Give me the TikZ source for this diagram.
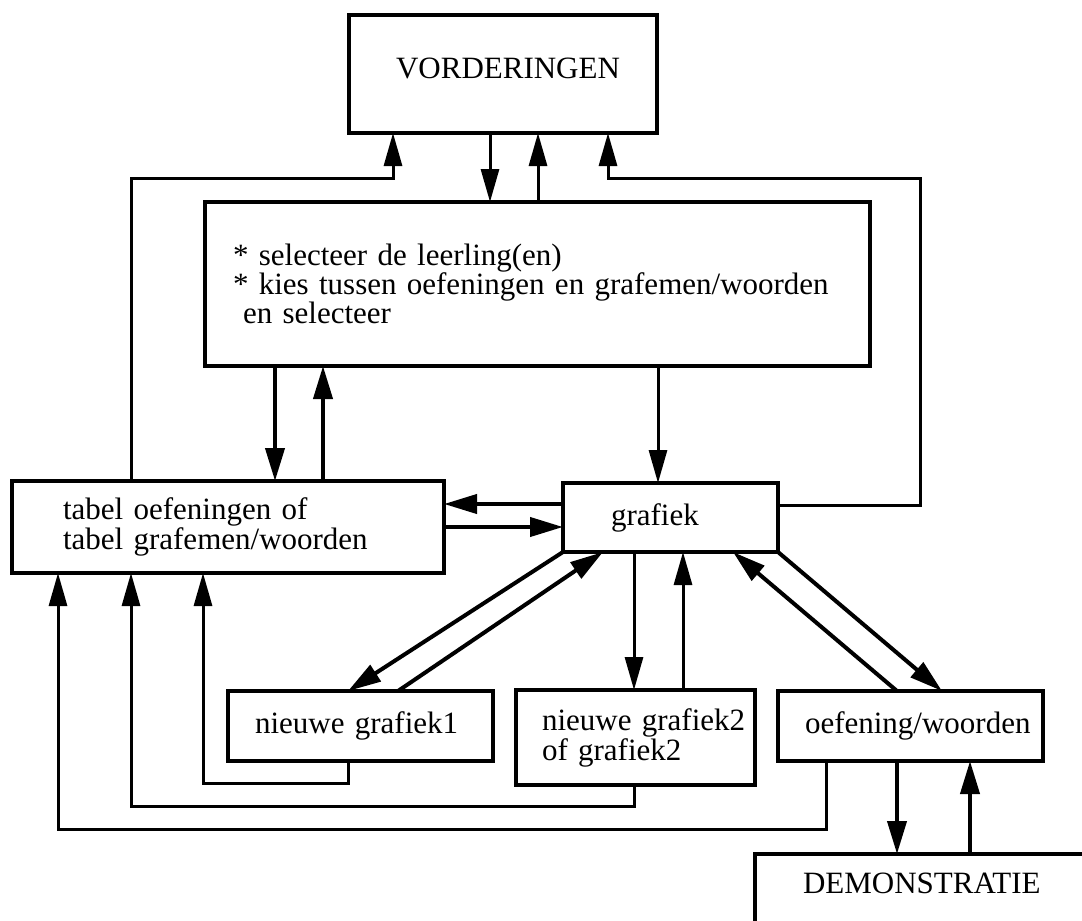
\documentclass[tikz,border=0pt]{standalone}
\usepackage{fontspec}
\setmainfont{Liberation Serif}
\usetikzlibrary{arrows.meta}

\begin{document}
\begin{tikzpicture}[x=1pt, y=-1pt,
  box/.style={draw, line width=3.8pt, outer sep=0pt, inner ysep=0pt,
    anchor=north west, align=left, font=\fontsize{31}{30}\selectfont},
  thinline/.style={line width=3.0pt, -{Triangle[length=33pt,width=18pt]}},
  boldline/.style={line width=4.0pt, -{Triangle[length=33pt,width=19pt]}}]

\useasboundingbox (0,0) rectangle (1082,921);
\clip (0,0) rectangle (1082,921);

% boxes
\node[box, minimum width=308pt, minimum height=118pt, inner xsep=0pt,
  text width=308pt, align=center, text height=21pt, text depth=12pt]
  (vord) at (349,15) {\hspace*{10pt}VORDERINGEN};
\node[box, minimum width=665pt, minimum height=164pt, inner xsep=28pt,
  text width=609pt, font=\fontsize{31}{27}\selectfont]
  (sel) at (205,202)
  {* selecteer de leerling(en)\\{}* kies tussen oefeningen en grafemen/woorden\\\hspace*{10pt}en selecteer};
\node[box, minimum width=432pt, minimum height=92pt, inner xsep=51pt,
  text width=330pt] (tabel) at (12,481) {tabel oefeningen of\\tabel grafemen/woorden};
\node[box, minimum width=215pt, minimum height=69pt, inner xsep=48pt,
  text width=119pt] (graf) at (563,483) {grafiek};
\node[box, minimum width=265pt, minimum height=70pt, inner xsep=27pt,
  text width=211pt] (ngr1) at (228,691) {nieuwe grafiek1};
\node[box, minimum width=239pt, minimum height=95pt, inner xsep=26pt,
  text width=187pt] (ngr2) at (516,690) {\mbox{nieuwe grafiek2}\\of grafiek2};
\node[box, minimum width=265pt, minimum height=70pt, inner xsep=27pt,
  text width=211pt] (oew) at (778,691) {oefening/woorden};
\node[box, minimum width=420pt, minimum height=130pt, inner xsep=48pt,
  text width=324pt, text height=21pt, text depth=72pt]
  (demo) at (755,854) {DEMONSTRATIE};

% links with VORDERINGEN
\draw[thinline] (131,0 |- tabel.north) -- (131,178) -| (393,0 |- vord.south);
\draw[thinline] (490,0 |- vord.south) -- (490,0 |- sel.north);
\draw[thinline] (538,0 |- sel.north) -- (538,0 |- vord.south);
\draw[thinline] (graf.east |- 0,505) -- (920,505) |- (608,178) -- (608,0 |- vord.south);

% selection box to the table and the graph
\draw[boldline] (275,0 |- sel.south) -- (275,0 |- tabel.north);
\draw[boldline] (323,0 |- tabel.north) -- (323,0 |- sel.south);
\draw[thinline] (658,0 |- sel.south) -- (658,0 |- graf.north);

% table <-> graph
\draw[boldline] (graf.west |- 0,504) -- (tabel.east |- 0,504);
\draw[boldline] (tabel.east |- 0,527) -- (graf.west |- 0,527);

% graph <-> new graphs and exercise
\draw[boldline] (graf.south west) -- (348,0 |- ngr1.north);
\draw[boldline] (398,0 |- ngr1.north) -- (603,0 |- graf.south);
\draw[thinline] (634,0 |- graf.south) -- (634,0 |- ngr2.north);
\draw[thinline] (683,0 |- ngr2.north) -- (683,0 |- graf.south);
\draw[boldline] (897,0 |- oew.north) -- (733,0 |- graf.south);
\draw[boldline] (graf.south east) -- (942,0 |- oew.north);

% exercise <-> demonstration
\draw[boldline] (897,0 |- oew.south) -- (897,0 |- demo.north);
\draw[boldline] (970,0 |- demo.north) -- (970,0 |- oew.south);

% returns to the table
\draw[thinline] (348,0 |- ngr1.south) -- (348,783) -| (203,0 |- tabel.south);
\draw[thinline] (634,0 |- ngr2.south) -- (634,806) -| (131,0 |- tabel.south);
\draw[thinline] (826,0 |- oew.south) -- (826,829) -| (58,0 |- tabel.south);
\end{tikzpicture}
\end{document}
